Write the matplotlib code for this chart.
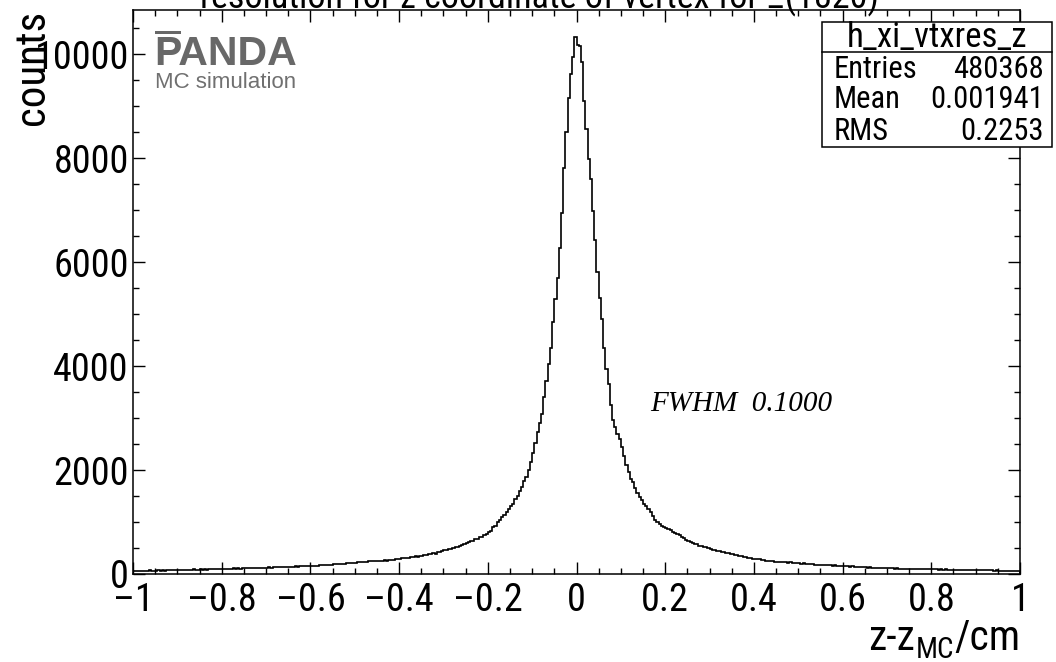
import numpy as np
import matplotlib
matplotlib.use("Agg")
import matplotlib.pyplot as plt
from matplotlib import font_manager
from matplotlib.font_manager import FontProperties
from matplotlib.patches import Rectangle
from matplotlib.lines import Line2D
from matplotlib.ticker import MultipleLocator, FuncFormatter


def pick_font(candidates):
    for name in candidates:
        try:
            font_manager.findfont(FontProperties(family=name),
                                  fallback_to_default=False)
            return name
        except Exception:
            continue
    return "DejaVu Sans"


def find_condensed_file():
    """Look for an upright, regular-weight narrow/condensed sans face."""
    prefs = ["liberation", "arial", "nimbus", "roboto", "open", "noto", "dejavu"]
    found = []
    for e in font_manager.fontManager.ttflist:
        key = (e.name + " " + e.fname).lower()
        if not ("narrow" in key or "condensed" in key):
            continue
        if e.style != "normal":
            continue
        low = e.fname.lower()
        if any(t in low for t in ("bold", "italic", "oblique", "light", "thin",
                                  "black", "medium", "semi", "extra")):
            continue
        if "serif" in key and "sans" not in key:
            continue
        if "mono" in key:
            continue
        rank = next((i for i, p in enumerate(prefs) if p in key), len(prefs))
        found.append((rank, e.fname))
    if not found:
        return None
    found.sort()
    return found[0][1]


WIDE = pick_font(["Liberation Sans", "Arial", "DejaVu Sans"])
SERIF = pick_font(["Liberation Serif", "DejaVu Serif"])
narrow_file = find_condensed_file()
if narrow_file is not None:
    def rootfont(size):
        return FontProperties(fname=narrow_file, size=size)
else:
    # no narrow face: shrink the regular face so that widths stay comparable
    def rootfont(size):
        return FontProperties(family=WIDE, size=size * 0.84)

plt.rcParams["font.family"] = [WIDE, "DejaVu Sans"]

# ---- histogram h_xi_vtxres_z : 400 bins on [-1, 1] ----
x_lo, x_hi, n_bins = -1.0, 1.0, 400

# bins from z-z_MC = -1 up to 0
counts_neg = [
    57, 63, 54, 61, 66, 58, 62, 69, 60, 58, 66, 70, 62, 71, 65, 73, 68, 75, 70, 77,
    79, 73, 81, 76, 84, 80, 81, 88, 80, 86, 89, 83, 91, 86, 93, 88, 95, 90, 97, 94,
    98, 101, 94, 104, 98, 106, 101, 109, 103, 111, 106, 114, 108, 116, 111, 119, 113, 121, 116, 124,
    120, 127, 123, 130, 126, 134, 129, 137, 133, 140, 136, 144, 139, 147, 143, 150, 146, 153, 149, 157,
    156, 161, 163, 160, 168, 172, 167, 176, 180, 175, 185, 189, 184, 194, 198, 193, 203, 208, 203, 214,
    221, 230, 225, 234, 238, 233, 242, 246, 241, 250, 254, 249, 259, 264, 259, 269, 275, 270, 280, 287,
    293, 302, 299, 313, 308, 325, 321, 339, 335, 354, 349, 370, 364, 381, 377, 398, 394, 421, 415, 442,
    452, 460, 473, 486, 498, 512, 527, 545, 563, 578, 595, 607, 629, 638, 665, 672, 705, 719, 751, 773,
    805, 832, 896, 931, 998, 1032, 1097, 1135, 1198, 1241, 1309, 1352, 1438, 1502, 1597, 1673, 1789, 1874, 2008, 2161,
    2330, 2525, 2730, 2895, 3080, 3405, 3720, 4040, 4350, 4840, 5290, 5700, 6260, 6950, 7800, 8500, 9150, 9620, 9950, 10330,
]

# bins from z-z_MC = 0 up to +1
counts_pos = [
    10180, 10150, 9850, 9100, 8550, 7990, 7600, 6980, 6420, 5800, 5300, 4900, 4350, 3950, 3650, 3250, 2960, 2830, 2700, 2590,
    2440, 2265, 2105, 1955, 1835, 1768, 1662, 1565, 1478, 1425, 1352, 1306, 1243, 1186, 1112, 1048, 995, 968, 918, 899,
    878, 856, 842, 811, 797, 771, 749, 712, 693, 655, 641, 612, 602, 578, 573, 548, 545, 521, 516, 494,
    488, 470, 463, 444, 436, 420, 416, 400, 398, 384, 383, 370, 368, 353, 349, 332, 327, 310, 306, 292,
    289, 280, 279, 269, 268, 258, 259, 248, 249, 238, 240, 231, 233, 225, 228, 219, 222, 213, 216, 208,
    209, 201, 203, 193, 196, 186, 189, 179, 182, 173, 177, 169, 172, 165, 168, 160, 164, 156, 159, 153,
    155, 148, 150, 143, 146, 137, 140, 131, 134, 126, 130, 122, 126, 118, 122, 114, 118, 111, 114, 109,
    112, 107, 110, 104, 108, 101, 105, 99, 103, 97, 101, 95, 99, 94, 97, 92, 96, 90, 94, 91,
    93, 88, 91, 86, 89, 84, 87, 82, 85, 80, 84, 79, 82, 77, 81, 76, 79, 75, 78, 77,
    74, 78, 72, 75, 70, 73, 68, 71, 66, 69, 64, 67, 62, 65, 60, 63, 58, 61, 57, 60,
]

hist_name = "h_xi_vtxres_z"
stat_labels = ["Entries", "Mean", "RMS"]
stat_values = ["480368", "0.001941", "0.2253"]
fwhm_text = "FWHM  0.1000"
title_text = "resolution for z coordinate of vertex for \u039e(1820)"
y_title = "counts"

counts = np.array(counts_neg + counts_pos, dtype=float)
edges = np.linspace(x_lo, x_hi, n_bins + 1)

W, H = 1056, 662
fig = plt.figure(figsize=(W / 100, H / 100), dpi=100)
ax = fig.add_axes([133 / W, 1 - 574 / H, (1020 - 133) / W, (574 - 10) / H])

ax.stairs(counts, edges, color="black", linewidth=1.2, baseline=0)

ax.set_xlim(x_lo, x_hi)
ax.set_ylim(0, 1.05 * counts.max())

ax.xaxis.set_major_locator(MultipleLocator(0.2))
ax.xaxis.set_minor_locator(MultipleLocator(0.05))
ax.yaxis.set_major_locator(MultipleLocator(2000))
ax.yaxis.set_minor_locator(MultipleLocator(500))


def fmt(v, _pos):
    if abs(v) < 1e-9:
        return "0"
    s = f"{v:g}"
    return s.replace("-", "\u2013")


ax.xaxis.set_major_formatter(FuncFormatter(fmt))
ax.yaxis.set_major_formatter(FuncFormatter(fmt))

ax.tick_params(which="both", direction="in", top=True, right=True, width=1.0,
               color="black")
ax.tick_params(which="major", length=8.5)
ax.tick_params(axis="x", which="major", pad=6)
ax.tick_params(axis="y", which="major", pad=3)
ax.tick_params(which="minor", length=4.3)
for sp in ax.spines.values():
    sp.set_linewidth(1.1)

fig.canvas.draw()
for lab in ax.get_xticklabels() + ax.get_yticklabels():
    lab.set_fontproperties(rootfont(27.5))

# axis titles, ROOT style (right / top aligned)
xt_main = rootfont(30)
xt_sub = rootfont(21)
t_cm = fig.text(1020 / W, 1 - 650 / H, "/cm", ha="right", va="baseline",
                fontproperties=xt_main)
fig.canvas.draw()
bb = t_cm.get_window_extent()
t_mc = fig.text(bb.x0 / W, 1 - 658 / H, "MC", ha="right", va="baseline",
                fontproperties=xt_sub)
fig.canvas.draw()
bb2 = t_mc.get_window_extent()
fig.text(bb2.x0 / W, 1 - 650 / H, "z-z", ha="right", va="baseline",
         fontproperties=xt_main)

fig.text(33 / W, 1 - 10 / H, y_title, rotation=90, ha="center", va="top",
         fontproperties=rootfont(31))

# histogram title, partly above the canvas
fig.text(540 / W, 1 - 8 / H, title_text, ha="center", va="baseline",
         fontproperties=rootfont(26))

# PANDA logo
logo_gray = "#686868"
fig.text(154 / W, 1 - 65 / H, "PANDA", ha="left", va="baseline", fontsize=29.5,
         fontweight="bold", color=logo_gray, family=WIDE)
fig.add_artist(Rectangle((155 / W, 1 - 34 / H), 26 / W, 3 / H,
                         transform=fig.transFigure, facecolor=logo_gray,
                         edgecolor="none"))
fig.text(155 / W, 1 - 88 / H, "MC simulation", ha="left", va="baseline",
         fontsize=16, color="#707070", family=WIDE)

# fit annotation
ax.text(0.166, 3130, fwhm_text, fontsize=21, family=SERIF, style="italic",
        ha="left", va="baseline")

# statistics box
bx0, bx1, by0, by1, bdiv = 822, 1052, 22, 147, 52
fig.add_artist(Rectangle((bx0 / W, 1 - by1 / H), (bx1 - bx0) / W, (by1 - by0) / H,
                         transform=fig.transFigure, facecolor="white",
                         edgecolor="black", linewidth=1.1, zorder=5))
fig.add_artist(Line2D([bx0 / W, bx1 / W], [1 - bdiv / H, 1 - bdiv / H],
                      transform=fig.transFigure, color="black", linewidth=1.1,
                      zorder=6))
fig.text((bx0 + bx1) / 2 / W, 1 - 37 / H, hist_name, ha="center", va="center",
         fontproperties=rootfont(25), zorder=7)
for i, (lab, val) in enumerate(zip(stat_labels, stat_values)):
    yy = 1 - (69 + 31 * i) / H
    fig.text(834 / W, yy, lab, ha="left", va="center",
             fontproperties=rootfont(22), zorder=7)
    fig.text(1044 / W, yy, val, ha="right", va="center",
             fontproperties=rootfont(22), zorder=7)

fig.savefig("out.png", dpi=100)
